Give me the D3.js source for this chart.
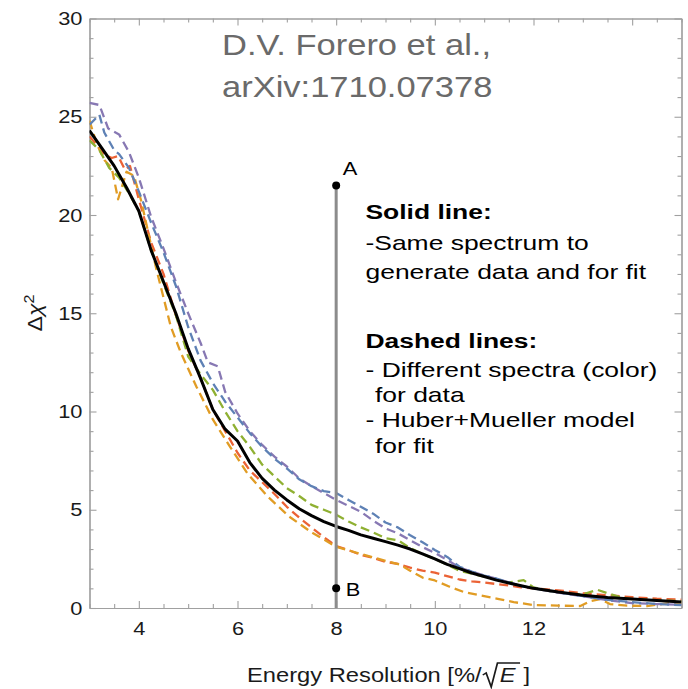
<!DOCTYPE html>
<html>
<head>
<meta charset="utf-8">
<script src="https://cdn.jsdelivr.net/npm/d3@7"></script>
<style>
  body { margin: 0; background: #fff; }
  svg text { font-family: "Liberation Sans", Arial, sans-serif; }
</style>
</head>
<body>
<div id="chart"></div>
<script>
// tick values
const xMajorTicks = [4, 6, 8, 10, 12, 14];
const yMajorTicks = [0, 5, 10, 15, 20, 25, 30];

// [energy resolution, delta chi^2]
const solidSame = [[3,24.3],[3.25,23.4],[3.5,22.5],[3.75,21.4],[4,20.2],[4.25,18.2],[4.5,16.6],[4.75,15.0],[5,13.2],[5.25,11.7],[5.5,10.1],[5.75,9.1],[6,8.5],[6.25,7.4],[6.5,6.6],[6.75,6.0],[7,5.5],[7.25,5.05],[7.5,4.7],[7.75,4.4],[8,4.15],[8.25,3.95],[8.5,3.72],[8.75,3.55],[9,3.38],[9.25,3.2],[9.5,3.0],[9.75,2.75],[10,2.5],[10.25,2.22],[10.5,2.0],[10.75,1.78],[11,1.6],[11.25,1.42],[11.5,1.27],[11.75,1.13],[12,1.0],[12.5,0.81],[13,0.65],[13.5,0.54],[14,0.46],[14.5,0.38],[15,0.3]];
const dashedPurple = [[3,25.7],[3.2,25.6],[3.38,24.4],[3.6,24.1],[3.8,23.2],[4,21.9],[4.25,19.9],[4.5,18.3],[4.75,16.6],[5,15.0],[5.25,13.5],[5.4,12.5],[5.6,12.3],[5.75,11.0],[6,9.9],[6.25,9.0],[6.5,8.3],[6.75,7.7],[7,7.2],[7.25,6.6],[7.5,6.2],[7.75,5.85],[8,5.5],[8.25,5.2],[8.5,4.9],[8.75,4.45],[9,4.05],[9.25,3.8],[9.5,3.45],[9.75,3.1],[10,2.8],[10.25,2.45],[10.5,2.05],[10.75,1.85],[11,1.65],[11.25,1.5],[11.5,1.3],[11.75,1.12],[12,1.0],[12.5,0.78],[13,0.6],[13.5,0.4],[14,0.25],[14.5,0.2],[15,0.17]];
const dashedBlue = [[3,24.6],[3.2,25.1],[3.3,24.2],[3.5,23.3],[3.6,23.1],[3.8,22.4],[4,21.2],[4.25,19.6],[4.5,18.1],[4.75,16.4],[5,14.3],[5.25,12.6],[5.5,11.45],[5.75,10.5],[6,9.7],[6.25,8.9],[6.5,8.2],[6.75,7.6],[7,7.1],[7.25,6.55],[7.5,6.2],[7.75,5.95],[8,5.85],[8.25,5.5],[8.5,5.15],[8.75,4.8],[9,4.35],[9.25,4.1],[9.5,3.7],[9.75,3.35],[10,2.95],[10.25,2.6],[10.5,2.1],[10.75,1.85],[11,1.65],[11.25,1.5],[11.5,1.3],[11.75,1.12],[12,1.0],[12.5,0.8],[13,0.6],[13.5,0.42],[14,0.3],[14.5,0.2],[15,0.15]];
const dashedGreen = [[3,23.8],[3.2,23.3],[3.4,22.4],[3.6,21.9],[3.8,21.1],[4,20.2],[4.25,18.2],[4.5,16.5],[4.75,14.9],[5,12.8],[5.25,11.9],[5.5,11.1],[5.75,10.0],[6,9.0],[6.25,8.2],[6.5,7.3],[6.75,6.7],[7,6.1],[7.25,5.7],[7.5,5.25],[7.75,5.0],[8,4.75],[8.25,4.4],[8.5,4.1],[8.75,3.85],[9,3.55],[9.25,3.45],[9.5,3.05],[9.75,2.75],[10,2.5],[10.25,2.2],[10.5,1.9],[10.75,1.75],[11,1.6],[11.25,1.45],[11.5,1.3],[11.8,1.42],[12,1.05],[12.25,0.9],[12.5,0.8],[12.75,0.72],[13,0.7],[13.3,0.92],[13.5,0.75],[13.75,0.55],[14,0.45],[14.5,0.4],[15,0.35]];
const dashedRed = [[3,24.0],[3.3,23.1],[3.45,22.9],[3.58,23.0],[3.72,22.3],[3.82,22.5],[4,20.8],[4.25,18.6],[4.5,17.0],[4.75,14.9],[5,13.1],[5.25,11.7],[5.5,10.1],[5.75,9.0],[6,7.9],[6.25,7.0],[6.5,6.4],[6.75,5.8],[7,5.15],[7.25,4.6],[7.5,4.1],[7.75,3.6],[8,3.15],[8.25,2.95],[8.5,2.7],[8.75,2.55],[9,2.35],[9.25,2.25],[9.5,2.05],[9.75,1.9],[10,1.8],[10.25,1.62],[10.5,1.45],[10.75,1.35],[11,1.3],[11.25,1.22],[11.5,1.15],[11.75,1.05],[12,1.0],[12.5,0.9],[13,0.75],[13.5,0.65],[14,0.55],[14.5,0.47],[15,0.42]];
const dashedOrange = [[3,24.8],[3.15,23.6],[3.3,22.8],[3.45,22.4],[3.58,20.8],[3.75,22.2],[3.9,22.0],[4.05,20.7],[4.2,19.0],[4.35,17.3],[4.5,15.8],[4.65,14.3],[4.85,13.0],[5.17,11.25],[5.5,9.6],[5.85,8.2],[6.2,6.85],[6.6,5.7],[7.05,4.65],[7.5,3.85],[8,3.12],[8.5,2.75],[9,2.4],[9.3,2.2],[9.5,1.9],[9.75,1.55],[10,1.4],[10.3,1.08],[10.6,0.8],[11,0.6],[11.3,0.45],[11.6,0.3],[12,0.15],[12.5,0.12],[12.95,0.1],[13.15,0.35],[13.35,0.45],[13.55,0.2],[13.9,0.12],[14.3,0.1],[14.6,0.2],[15,0.3]];

const markerX = 8;
const markerA = 21.5;
const markerB = 1;

const titleLines = ["D.V. Forero et al.,", "arXiv:1710.07378"];
const legendLines = [
  { text: "Solid line:", bold: true },
  { text: "-Same spectrum to" },
  { text: "generate data and for fit" },
  { text: "Dashed lines:", bold: true },
  { text: "- Different spectra (color)" },
  { text: "for data", indent: true },
  { text: "- Huber+Mueller model" },
  { text: "for fit", indent: true }
];

// chart
const width = 688, height = 689;
const plot = { left: 89.5, right: 681.5, top: 18.5, bottom: 608 };
const frameColor = "#a0a0a0";
const stretch = 1.15; // text in the picture is wider than tall

const svg = d3.select("#chart").append("svg")
  .attr("width", width)
  .attr("height", height);

const x = d3.scaleLinear().domain([3, 15]).range([plot.left, plot.right]);
const y = d3.scaleLinear().domain([0, 30]).range([plot.bottom, plot.top]);

const xMinor = d3.range(3, 15.01, 0.5).filter(v => !xMajorTicks.includes(v));
const yMinor = d3.range(0, 30.01, 1).filter(v => !yMajorTicks.includes(v));

function styleAxis(g) {
  g.select(".domain").attr("stroke", frameColor).attr("stroke-width", 1.2);
  g.selectAll(".tick line").attr("stroke", frameColor).attr("stroke-width", 1.1);
}

// minor ticks
svg.append("g").attr("transform", `translate(0,${plot.bottom})`)
  .call(d3.axisBottom(x).tickValues(xMinor).tickSize(-4).tickSizeOuter(0).tickFormat(""))
  .call(styleAxis);
svg.append("g").attr("transform", `translate(0,${plot.top})`)
  .call(d3.axisTop(x).tickValues(xMinor).tickSize(-4).tickSizeOuter(0).tickFormat(""))
  .call(styleAxis);
svg.append("g").attr("transform", `translate(${plot.left},0)`)
  .call(d3.axisLeft(y).tickValues(yMinor).tickSize(-4).tickSizeOuter(0).tickFormat(""))
  .call(styleAxis);
svg.append("g").attr("transform", `translate(${plot.right},0)`)
  .call(d3.axisRight(y).tickValues(yMinor).tickSize(-4).tickSizeOuter(0).tickFormat(""))
  .call(styleAxis);

// major ticks
const xAxis = svg.append("g").attr("transform", `translate(0,${plot.bottom})`)
  .call(d3.axisBottom(x).tickValues(xMajorTicks).tickSize(-7).tickSizeOuter(0).tickPadding(14))
  .call(styleAxis);
svg.append("g").attr("transform", `translate(0,${plot.top})`)
  .call(d3.axisTop(x).tickValues(xMajorTicks).tickSize(-7).tickSizeOuter(0).tickFormat(""))
  .call(styleAxis);
const yAxis = svg.append("g").attr("transform", `translate(${plot.left},0)`)
  .call(d3.axisLeft(y).tickValues(yMajorTicks).tickSize(-7).tickSizeOuter(0))
  .call(styleAxis);
svg.append("g").attr("transform", `translate(${plot.right},0)`)
  .call(d3.axisRight(y).tickValues(yMajorTicks).tickSize(-7).tickSizeOuter(0).tickFormat(""))
  .call(styleAxis);

xAxis.selectAll(".tick text")
  .attr("fill", "#1a1a1a")
  .style("font-size", "19px")
  .attr("transform", `scale(${stretch},1)`);
yAxis.selectAll(".tick text")
  .attr("fill", "#1a1a1a")
  .style("font-size", "19px")
  .attr("x", 0)
  .attr("transform", `translate(-7,0) scale(${stretch},1)`);

// curves
const clip = svg.append("clipPath").attr("id", "plot-clip")
  .append("rect")
  .attr("x", plot.left).attr("y", plot.top)
  .attr("width", plot.right - plot.left).attr("height", plot.bottom - plot.top);

const line = d3.line().x(d => x(d[0])).y(d => y(d[1]));

const dashed = [
  { data: dashedRed, color: "#EB6235" },
  { data: dashedOrange, color: "#E19C24" },
  { data: dashedGreen, color: "#8FB032" },
  { data: dashedPurple, color: "#8778B3" },
  { data: dashedBlue, color: "#5E81B5" }
];

const curves = svg.append("g").attr("clip-path", "url(#plot-clip)");
curves.selectAll("path.dashed")
  .data(dashed)
  .join("path")
  .attr("class", "dashed")
  .attr("d", d => line(d.data))
  .attr("fill", "none")
  .attr("stroke", d => d.color)
  .attr("stroke-width", 2.3)
  .attr("stroke-dasharray", "9,5")
  .attr("stroke-linejoin", "round");

curves.append("path")
  .attr("d", line(solidSame))
  .attr("fill", "none")
  .attr("stroke", "#000")
  .attr("stroke-width", 3)
  .attr("stroke-linejoin", "round");

// vertical marker A-B
svg.append("line")
  .attr("x1", x(markerX)).attr("x2", x(markerX))
  .attr("y1", y(markerA)).attr("y2", y(0))
  .attr("stroke", "#8c8c8c")
  .attr("stroke-width", 3);

[{ v: markerA, label: "A", dx: 6.5, dy: -11 }, { v: markerB, label: "B", dx: 9.5, dy: 8 }].forEach(p => {
  svg.append("circle")
    .attr("cx", x(markerX)).attr("cy", y(p.v))
    .attr("r", 4)
    .attr("fill", "#000");
  svg.append("text")
    .attr("transform", `translate(${x(markerX) + p.dx},${y(p.v) + p.dy}) scale(${stretch},1)`)
    .style("font-size", "19px")
    .attr("fill", "#000")
    .text(p.label);
});

// title
titleLines.forEach((t, i) => {
  svg.append("text")
    .attr("transform", `translate(222,${55 + i * 42}) scale(${stretch},1)`)
    .style("font-size", "30px")
    .attr("fill", "#6a6a6a")
    .text(t);
});

// legend text
const legendBase = [219, 250, 279, 348, 377, 402, 427, 453];
legendLines.forEach((l, i) => {
  svg.append("text")
    .attr("transform", `translate(${l.indent ? 375 : 365.5},${legendBase[i]}) scale(1.29,1)`)
    .style("font-size", "20.5px")
    .style("font-weight", l.bold ? "bold" : "normal")
    .attr("fill", "#000")
    .text(l.text);
});

// y label: delta chi^2
const yl = svg.append("text")
  .attr("transform", `translate(42,313) rotate(-90) scale(${stretch},1)`)
  .attr("text-anchor", "middle")
  .style("font-size", "20px")
  .attr("fill", "#1a1a1a");
yl.append("tspan").text("Δ");
yl.append("tspan").style("font-style", "italic").text("χ");
yl.append("tspan").attr("dy", -8).style("font-size", "14px").text("2");

// x label with square root
const xl = svg.append("g")
  .attr("transform", `translate(247,682) scale(1.13,1)`)
  .style("font-size", "21px")
  .attr("fill", "#1a1a1a");
const xl1 = xl.append("text").text("Energy Resolution [%/");
const rx = xl1.node().getComputedTextLength() + 1;
const xlE = xl.append("text").attr("x", rx + 15).style("font-style", "italic").text("E");
const wE = xlE.node().getComputedTextLength();
xl.append("path")
  .attr("d", `M${rx},-7 L${rx + 3},-9 L${rx + 7.5},5 L${rx + 13},-19 L${rx + 15 + wE + 4},-19`)
  .attr("fill", "none")
  .attr("stroke", "#1a1a1a")
  .attr("stroke-width", 1.5);
xl.append("text").attr("x", rx + 15 + wE + 7).text("]");
</script>
</body>
</html>
